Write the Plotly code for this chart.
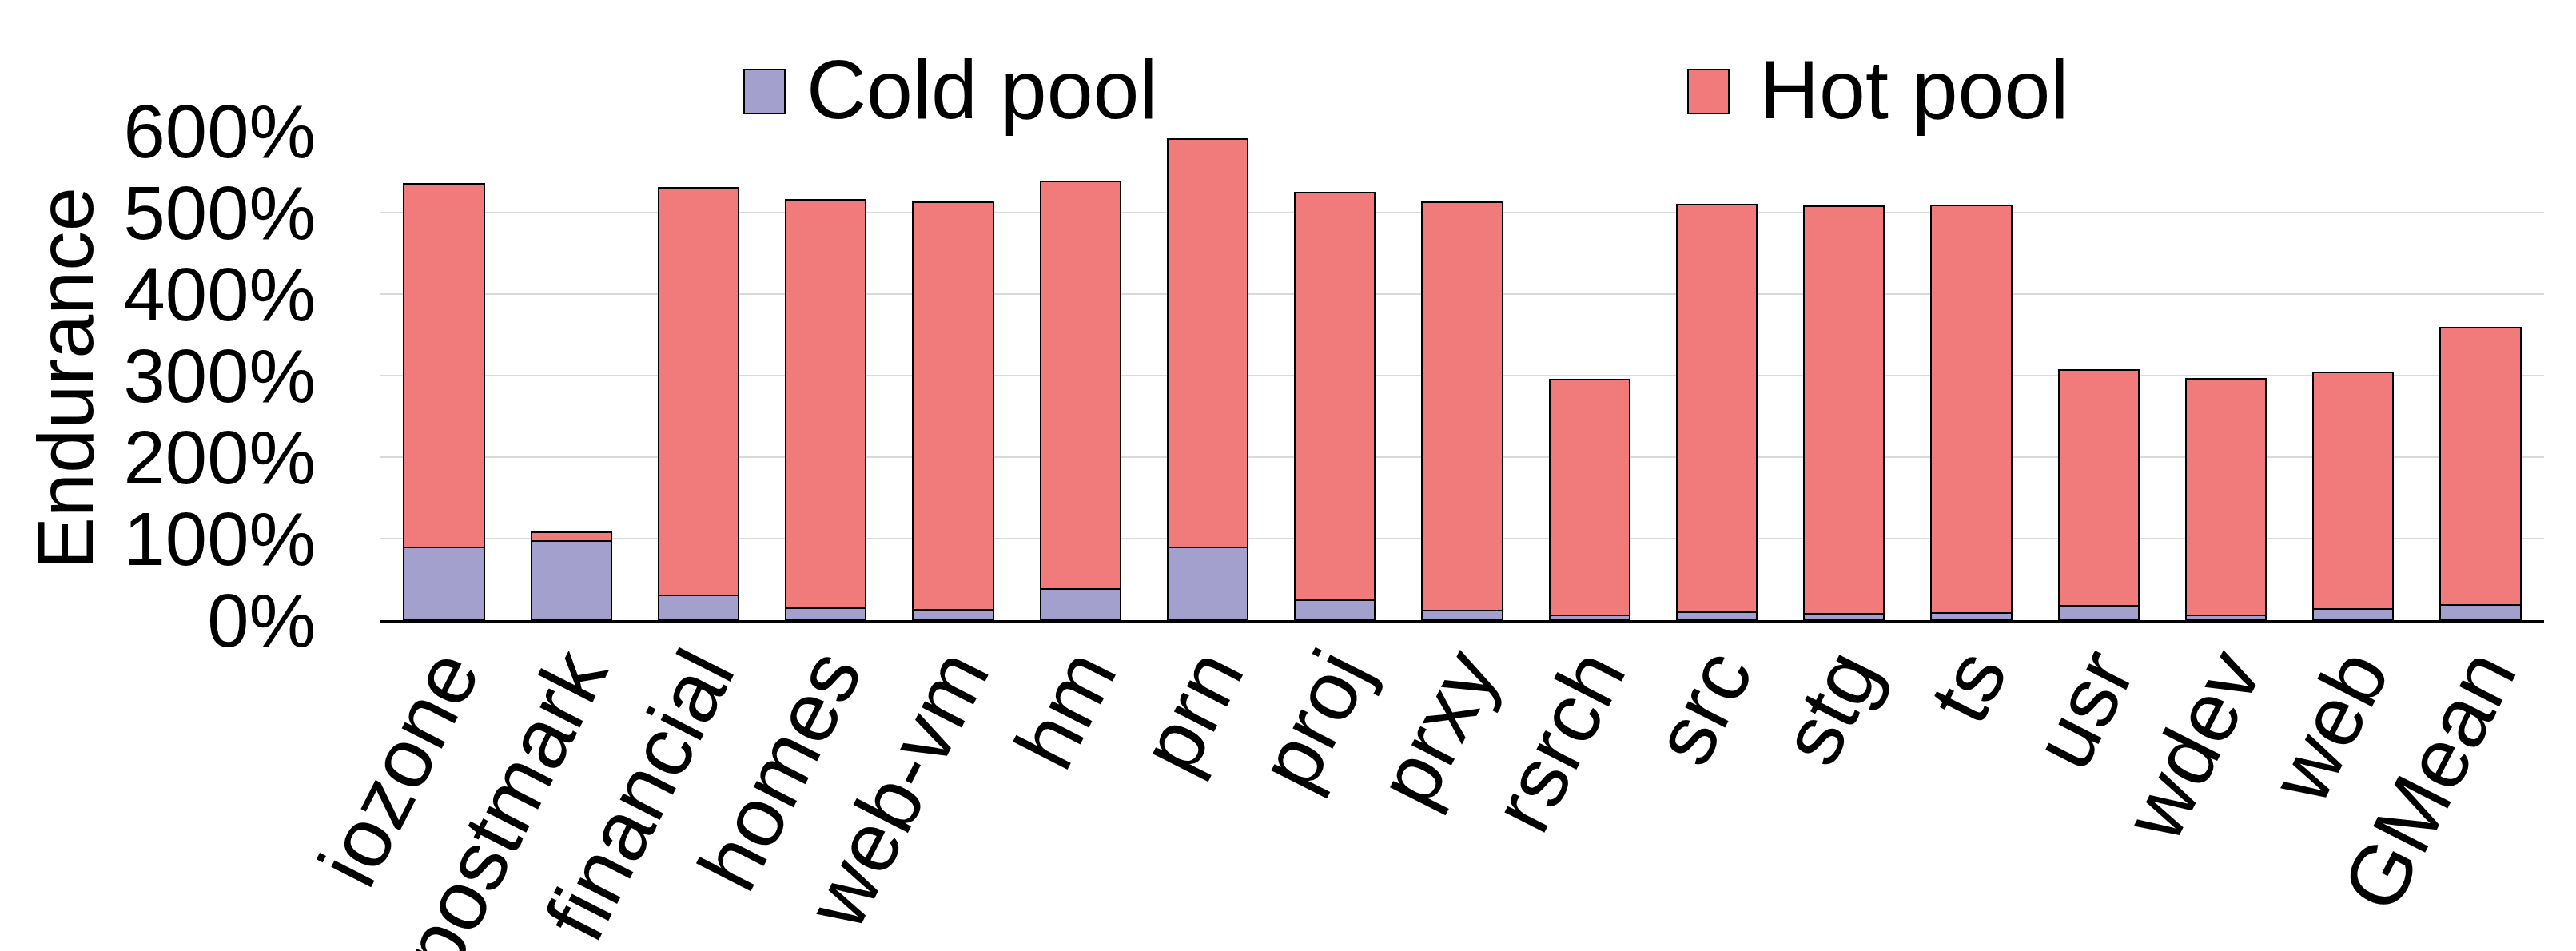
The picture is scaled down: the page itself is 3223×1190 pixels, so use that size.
import plotly.graph_objects as go

# Workloads on the x axis
workloads = ["iozone", "postmark", "financial", "homes", "web-vm", "hm", "prn",
             "proj", "prxy", "rsrch", "src", "stg", "ts", "usr", "wdev", "web", "GMean"]

# Endurance contributed by each pool (percent)
cold_pool = [89.5, 97, 30, 14.7, 12.7, 38, 89.5, 24.5, 12, 5.9, 9.5, 7.4, 8.5, 17.3, 6.2, 14, 19]
hot_pool = [445.5, 11, 500.5, 500.7, 500.3, 500.5, 500.5, 500.5, 500.7, 289.1, 500.3, 500.4,
            500.3, 289.6, 289.6, 289.9, 339.5]

y_ticks = [0, 100, 200, 300, 400, 500, 600]
y_tick_text = [f"{v}%" for v in y_ticks]

COLD_COLOR = "#A3A0CD"
HOT_COLOR = "#F17B7B"
FONT = "Arial, 'Liberation Sans', sans-serif"

W, H = 3223, 1190
ML, MR, MT, MB = 476, 40, 164, 414
PW, PH = W - ML - MR, H - MT - MB


def paper_x(px):
    return (px - ML) / PW


def paper_y(py):
    return (H - MB - py) / PH


fig = go.Figure()
fig.add_trace(go.Bar(x=workloads, y=cold_pool, name="Cold pool",
                     marker=dict(color=COLD_COLOR, line=dict(color="black", width=2))))
fig.add_trace(go.Bar(x=workloads, y=hot_pool, name="Hot pool",
                     marker=dict(color=HOT_COLOR, line=dict(color="black", width=2))))

fig.update_layout(
    width=W, height=H,
    margin=dict(l=ML, r=MR, t=MT, b=MB, autoexpand=False),
    barmode="stack", bargap=0.37,
    plot_bgcolor="white", paper_bgcolor="white",
    showlegend=False,
    font=dict(family=FONT, color="black", size=94),
)
fig.update_xaxes(
    type="category", tickangle=-63, tickfont=dict(size=106), automargin=False,
    showline=True, linecolor="black", linewidth=4, ticks="", ticklabelstandoff=-40,
    showgrid=False,
)
fig.update_yaxes(
    range=[0, 600], tickvals=y_ticks, ticktext=y_tick_text, automargin=False,
    tickfont=dict(size=94), ticks="", ticklabelstandoff=80,
    showgrid=True, gridcolor="#D9D9D9", gridwidth=2,
    zeroline=False, showline=False,
)

# Y-axis title
fig.add_annotation(text="Endurance", xref="paper", yref="paper",
                   x=paper_x(81), y=paper_y(474), xanchor="center", yanchor="middle",
                   textangle=-90, showarrow=False, font=dict(size=99))

# Legend drawn as swatches plus labels
legend_items = [("Cold pool", COLD_COLOR, 931, 1007), ("Hot pool", HOT_COLOR, 2112, 2199)]
for label, color, sx, tx in legend_items:
    fig.add_shape(type="rect", xref="paper", yref="paper",
                  x0=paper_x(sx), x1=paper_x(sx + 51), y0=paper_y(142), y1=paper_y(87),
                  fillcolor=color, line=dict(color="black", width=2))
    fig.add_annotation(text=label, xref="paper", yref="paper",
                       x=paper_x(tx), y=paper_y(112), xanchor="left", yanchor="middle",
                       showarrow=False, font=dict(size=104))

fig.write_html("out.html")
